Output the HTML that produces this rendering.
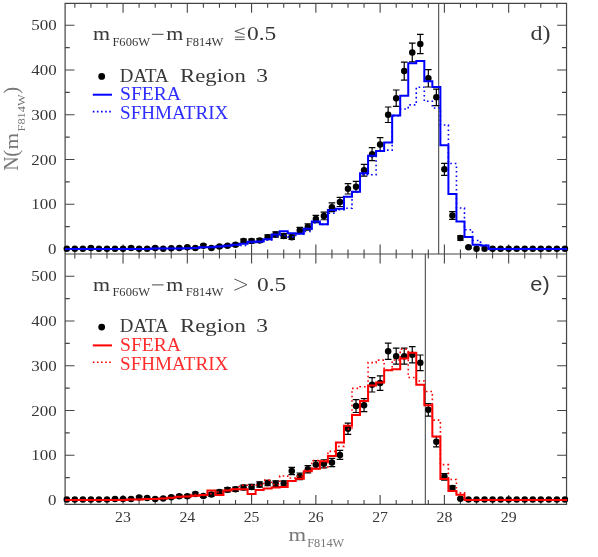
<!DOCTYPE html>
<html><head><meta charset="utf-8"><title>N(mF814W) histograms</title>
<style>html,body{margin:0;padding:0;background:#fff}svg{display:block;will-change:transform}</style>
</head><body>
<svg width="598" height="557" viewBox="0 0 598 557">
<rect width="598" height="557" fill="#fff"/>
<path d="M74.84 3.45v4.4M74.84 254v-4.4M90.91 3.45v4.4M90.91 254v-4.4M106.98 3.45v4.4M106.98 254v-4.4M123.04 3.45v9.4M123.04 254v-9.4M139.11 3.45v4.4M139.11 254v-4.4M155.18 3.45v4.4M155.18 254v-4.4M171.25 3.45v4.4M171.25 254v-4.4M187.31 3.45v9.4M187.31 254v-9.4M203.38 3.45v4.4M203.38 254v-4.4M219.45 3.45v4.4M219.45 254v-4.4M235.52 3.45v4.4M235.52 254v-4.4M251.58 3.45v9.4M251.58 254v-9.4M267.65 3.45v4.4M267.65 254v-4.4M283.72 3.45v4.4M283.72 254v-4.4M299.79 3.45v4.4M299.79 254v-4.4M315.85 3.45v9.4M315.85 254v-9.4M331.92 3.45v4.4M331.92 254v-4.4M347.99 3.45v4.4M347.99 254v-4.4M364.06 3.45v4.4M364.06 254v-4.4M380.12 3.45v9.4M380.12 254v-9.4M396.19 3.45v4.4M396.19 254v-4.4M412.26 3.45v4.4M412.26 254v-4.4M428.33 3.45v4.4M428.33 254v-4.4M444.39 3.45v9.4M444.39 254v-9.4M460.46 3.45v4.4M460.46 254v-4.4M476.53 3.45v4.4M476.53 254v-4.4M492.6 3.45v4.4M492.6 254v-4.4M508.66 3.45v9.4M508.66 254v-9.4M524.73 3.45v4.4M524.73 254v-4.4M540.8 3.45v4.4M540.8 254v-4.4M556.87 3.45v4.4M556.87 254v-4.4M65.1 249h9.4M566.55 249h-9.4M65.1 226.62h4.6M566.55 226.62h-4.6M65.1 204.25h9.4M566.55 204.25h-9.4M65.1 181.88h4.6M566.55 181.88h-4.6M65.1 159.5h9.4M566.55 159.5h-9.4M65.1 137.12h4.6M566.55 137.12h-4.6M65.1 114.75h9.4M566.55 114.75h-9.4M65.1 92.38h4.6M566.55 92.38h-4.6M65.1 70h9.4M566.55 70h-9.4M65.1 47.62h4.6M566.55 47.62h-4.6M65.1 25.25h9.4M566.55 25.25h-9.4" stroke="#444" stroke-width="1.1" fill="none"/>
<path d="M74.84 254v4.4M74.84 504.45v-4.4M90.91 254v4.4M90.91 504.45v-4.4M106.98 254v4.4M106.98 504.45v-4.4M123.04 254v9.4M123.04 504.45v-9.4M139.11 254v4.4M139.11 504.45v-4.4M155.18 254v4.4M155.18 504.45v-4.4M171.25 254v4.4M171.25 504.45v-4.4M187.31 254v9.4M187.31 504.45v-9.4M203.38 254v4.4M203.38 504.45v-4.4M219.45 254v4.4M219.45 504.45v-4.4M235.52 254v4.4M235.52 504.45v-4.4M251.58 254v9.4M251.58 504.45v-9.4M267.65 254v4.4M267.65 504.45v-4.4M283.72 254v4.4M283.72 504.45v-4.4M299.79 254v4.4M299.79 504.45v-4.4M315.85 254v9.4M315.85 504.45v-9.4M331.92 254v4.4M331.92 504.45v-4.4M347.99 254v4.4M347.99 504.45v-4.4M364.06 254v4.4M364.06 504.45v-4.4M380.12 254v9.4M380.12 504.45v-9.4M396.19 254v4.4M396.19 504.45v-4.4M412.26 254v4.4M412.26 504.45v-4.4M428.33 254v4.4M428.33 504.45v-4.4M444.39 254v9.4M444.39 504.45v-9.4M460.46 254v4.4M460.46 504.45v-4.4M476.53 254v4.4M476.53 504.45v-4.4M492.6 254v4.4M492.6 504.45v-4.4M508.66 254v9.4M508.66 504.45v-9.4M524.73 254v4.4M524.73 504.45v-4.4M540.8 254v4.4M540.8 504.45v-4.4M556.87 254v4.4M556.87 504.45v-4.4M65.1 500h9.4M566.55 500h-9.4M65.1 477.62h4.6M566.55 477.62h-4.6M65.1 455.25h9.4M566.55 455.25h-9.4M65.1 432.88h4.6M566.55 432.88h-4.6M65.1 410.5h9.4M566.55 410.5h-9.4M65.1 388.12h4.6M566.55 388.12h-4.6M65.1 365.75h9.4M566.55 365.75h-9.4M65.1 343.38h4.6M566.55 343.38h-4.6M65.1 321h9.4M566.55 321h-9.4M65.1 298.62h4.6M566.55 298.62h-4.6M65.1 276.25h9.4M566.55 276.25h-9.4" stroke="#444" stroke-width="1.1" fill="none"/>
<path d="M65.1 3.45H566.55V504.45H65.1ZM65.1 254H566.55" stroke="#444" stroke-width="1.2" fill="none"/>
<line x1="438.7" y1="3.45" x2="438.7" y2="254" stroke="#3a3a3a" stroke-width="1"/>
<path d="M90.91 247.17V248.59M87.61 247.17H94.21M87.61 248.59H94.21M131.08 247.17V248.59M127.78 247.17H134.38M127.78 248.59H134.38M155.18 247.17V248.59M151.88 247.17H158.48M151.88 248.59H158.48M179.28 247.47V248.74M175.98 247.47H182.58M175.98 248.74H182.58M187.31 246.31V248.11M184.01 246.31H190.61M184.01 248.11H190.61M195.35 247.47V248.74M192.05 247.47H198.65M192.05 248.74H198.65M203.38 244.42V246.87M200.08 244.42H206.68M200.08 246.87H206.68M211.41 247.47V248.74M208.11 247.47H214.71M208.11 248.74H214.71M219.45 245.49V247.59M216.15 245.49H222.75M216.15 247.59H222.75M227.48 244.58V246.98M224.18 244.58H230.78M224.18 246.98H230.78M235.52 243.27V246.05M232.22 243.27H238.82M232.22 246.05H238.82M243.55 239.05V242.84M240.25 239.05H246.85M240.25 242.84H246.85M251.58 239.05V242.84M248.28 239.05H254.88M248.28 242.84H254.88M259.62 238.55V242.45M256.32 238.55H262.92M256.32 242.45H262.92M267.65 234.89V239.49M264.35 234.89H270.95M264.35 239.49H270.95M275.68 231.95V237.05M272.38 231.95H278.98M272.38 237.05H278.98M283.72 233.61V238.43M280.42 233.61H287.02M280.42 238.43H287.02M291.75 234.89V239.49M288.45 234.89H295.05M288.45 239.49H295.05M299.79 227.4V233.19M296.49 227.4H303.09M296.49 233.19H303.09M307.82 223.94V230.2M304.52 223.94H311.12M304.52 230.2H311.12M315.85 215.35V222.68M312.55 215.35H319.15M312.55 222.68H319.15M323.89 212.04V219.73M320.59 212.04H327.19M320.59 219.73H327.19M331.92 202.93V211.57M328.62 202.93H335.22M328.62 211.57H335.22M339.95 197.33V206.51M336.65 197.33H343.25M336.65 206.51H343.25M347.99 183.62V194M344.69 183.62H351.29M344.69 194H351.29M356.02 181.43V191.99M352.72 181.43H359.32M352.72 191.99H359.32M364.06 164.3V176.18M360.76 164.3H367.36M360.76 176.18H367.36M372.09 147.61V160.65M368.79 147.61H375.39M368.79 160.65H375.39M380.12 137.67V151.35M376.82 137.67H383.42M376.82 151.35H383.42M388.16 107V122.5M384.86 107H391.46M384.86 122.5H391.46M396.19 89.98V106.41M392.89 89.98H399.49M392.89 106.41H399.49M404.22 62.2V80.04M400.92 62.2H407.52M400.92 80.04H407.52M412.26 43.17V61.92M408.96 43.17H415.56M408.96 61.92H415.56M420.29 34.47V53.62M416.99 34.47H423.59M416.99 53.62H423.59M428.33 69.54V87.02M425.03 69.54H431.63M425.03 87.02H431.63M436.36 89.06V105.54M433.06 89.06H439.66M433.06 105.54H439.66M444.39 163.37V175.32M441.09 163.37H447.69M441.09 175.32H447.69M452.43 211.56V219.31M449.13 211.56H455.73M449.13 219.31H455.73M460.46 235.82V240.25M457.16 235.82H463.76M457.16 240.25H463.76M468.49 246.31V248.11M465.19 246.31H471.79M465.19 248.11H471.79" stroke="#000" stroke-width="1.2" fill="none"/>
<circle cx="66.81" cy="248.78" r="3.25" fill="#000"/>
<circle cx="74.84" cy="248.78" r="3.25" fill="#000"/>
<circle cx="82.87" cy="248.78" r="3.25" fill="#000"/>
<circle cx="90.91" cy="247.88" r="3.25" fill="#000"/>
<circle cx="98.94" cy="248.78" r="3.25" fill="#000"/>
<circle cx="106.98" cy="248.78" r="3.25" fill="#000"/>
<circle cx="115.01" cy="248.78" r="3.25" fill="#000"/>
<circle cx="123.04" cy="248.78" r="3.25" fill="#000"/>
<circle cx="131.08" cy="247.88" r="3.25" fill="#000"/>
<circle cx="139.11" cy="248.78" r="3.25" fill="#000"/>
<circle cx="147.14" cy="248.78" r="3.25" fill="#000"/>
<circle cx="155.18" cy="247.88" r="3.25" fill="#000"/>
<circle cx="163.21" cy="248.78" r="3.25" fill="#000"/>
<circle cx="171.25" cy="248.33" r="3.25" fill="#000"/>
<circle cx="179.28" cy="248.1" r="3.25" fill="#000"/>
<circle cx="187.31" cy="247.21" r="3.25" fill="#000"/>
<circle cx="195.35" cy="248.1" r="3.25" fill="#000"/>
<circle cx="203.38" cy="245.64" r="3.25" fill="#000"/>
<circle cx="211.41" cy="248.1" r="3.25" fill="#000"/>
<circle cx="219.45" cy="246.54" r="3.25" fill="#000"/>
<circle cx="227.48" cy="245.78" r="3.25" fill="#000"/>
<circle cx="235.52" cy="244.66" r="3.25" fill="#000"/>
<circle cx="243.55" cy="240.94" r="3.25" fill="#000"/>
<circle cx="251.58" cy="240.94" r="3.25" fill="#000"/>
<circle cx="259.62" cy="240.5" r="3.25" fill="#000"/>
<circle cx="267.65" cy="237.19" r="3.25" fill="#000"/>
<circle cx="275.68" cy="234.5" r="3.25" fill="#000"/>
<circle cx="283.72" cy="236.02" r="3.25" fill="#000"/>
<circle cx="291.75" cy="237.19" r="3.25" fill="#000"/>
<circle cx="299.79" cy="230.29" r="3.25" fill="#000"/>
<circle cx="307.82" cy="227.07" r="3.25" fill="#000"/>
<circle cx="315.85" cy="219.02" r="3.25" fill="#000"/>
<circle cx="323.89" cy="215.88" r="3.25" fill="#000"/>
<circle cx="331.92" cy="207.25" r="3.25" fill="#000"/>
<circle cx="339.95" cy="201.92" r="3.25" fill="#000"/>
<circle cx="347.99" cy="188.81" r="3.25" fill="#000"/>
<circle cx="356.02" cy="186.71" r="3.25" fill="#000"/>
<circle cx="364.06" cy="170.24" r="3.25" fill="#000"/>
<circle cx="372.09" cy="154.13" r="3.25" fill="#000"/>
<circle cx="380.12" cy="144.51" r="3.25" fill="#000"/>
<circle cx="388.16" cy="114.75" r="3.25" fill="#000"/>
<circle cx="396.19" cy="98.19" r="3.25" fill="#000"/>
<circle cx="404.22" cy="71.12" r="3.25" fill="#000"/>
<circle cx="412.26" cy="52.55" r="3.25" fill="#000"/>
<circle cx="420.29" cy="44.04" r="3.25" fill="#000"/>
<circle cx="428.33" cy="78.28" r="3.25" fill="#000"/>
<circle cx="436.36" cy="97.3" r="3.25" fill="#000"/>
<circle cx="444.39" cy="169.34" r="3.25" fill="#000"/>
<circle cx="452.43" cy="215.44" r="3.25" fill="#000"/>
<circle cx="460.46" cy="238.04" r="3.25" fill="#000"/>
<circle cx="468.49" cy="247.21" r="3.25" fill="#000"/>
<circle cx="476.53" cy="248.78" r="3.25" fill="#000"/>
<circle cx="484.56" cy="248.78" r="3.25" fill="#000"/>
<circle cx="492.6" cy="248.78" r="3.25" fill="#000"/>
<circle cx="500.63" cy="248.78" r="3.25" fill="#000"/>
<circle cx="508.66" cy="248.78" r="3.25" fill="#000"/>
<circle cx="516.7" cy="248.78" r="3.25" fill="#000"/>
<circle cx="524.73" cy="248.78" r="3.25" fill="#000"/>
<circle cx="532.76" cy="248.78" r="3.25" fill="#000"/>
<circle cx="540.8" cy="248.78" r="3.25" fill="#000"/>
<circle cx="548.83" cy="248.78" r="3.25" fill="#000"/>
<circle cx="556.87" cy="248.78" r="3.25" fill="#000"/>
<circle cx="564.9" cy="248.78" r="3.25" fill="#000"/>
<path d="M65.1 249H70.82V249H78.86V249H86.89V249H94.92V249H102.96V249H110.99V249H119.03V249H127.06V249H135.09V249H143.13V249H151.16V248.55H159.19V248.55H167.23V248.55H175.26V248.46H183.3V248.33H191.33V248.1H199.36V247.21H207.4V247.21H215.43V246.49H223.46V245.64H231.5V244.75H239.53V243.63H247.57V241.84H255.6V241.62H263.63V239.16H271.67V234.5H279.7V231.23H287.73V233.34H295.77V233.65H303.8V228.64H311.84V221.39H319.87V224.21H327.9V210.07H335.94V208.72H343.97V196.87H352V191.85H360.04V173.37H368.07V155.7H376.11V151H384.14V142.5H392.17V115.42H400.21V95.82H408.24V63.29H416.27V61.05H424.31V81.37H432.34V87H440.38V145.27H448.41V193.96H456.44V221.48H464.48V236.92H472.51V244.84H480.54V245.42H488.58V249H496.61V249H504.65V249H512.68V249H520.71V249H528.75V249H536.78V249H544.81V249H552.85V249H560.88V249H567.15" stroke="#0000ff" stroke-width="2" fill="none" stroke-linejoin="miter"/>
<path d="M65.1 249H70.82V249H78.86V249H86.89V249H94.92V249H102.96V249H110.99V249H119.03V249H127.06V249H135.09V249H143.13V249H151.16V248.55H159.19V248.55H167.23V248.55H175.26V248.46H183.3V248.33H191.33V248.1H199.36V247.21H207.4V247.21H215.43V246.49H223.46V245.64H231.5V244.75H239.53V245.42H247.57V242.74H255.6V242.29H263.63V240.05H271.67V236.47H279.7V235.57H287.73V236.92H295.77V233.78H303.8V231.55H311.84V223.04H319.87V224.39H327.9V213.2H335.94V209.62H343.97V208.32H352V191.85H360.04V174.72H368.07V174.72H376.11V151H384.14V150.1H392.17V115.65H400.21V108.93H408.24V104.91H416.27V87.23H424.31V101.32H432.34V108.04H440.38V125.04H448.41V163.53H456.44V208.05H464.48V229.76H472.51V240.5H480.54V245.42H488.58V249H496.61V249H504.65V249H512.68V249H520.71V249H528.75V249H536.78V249H544.81V249H552.85V249H560.88V249H567.15" stroke="#0000ff" stroke-width="1.6" fill="none" stroke-dasharray="1.6 2.9"/>
<line x1="425.3" y1="254" x2="425.3" y2="504.45" stroke="#3a3a3a" stroke-width="1"/>
<path d="M115.01 498.47V499.74M111.71 498.47H118.31M111.71 499.74H118.31M123.04 498.47V499.74M119.74 498.47H126.34M119.74 499.74H126.34M131.08 498.47V499.74M127.78 498.47H134.38M127.78 499.74H134.38M139.11 496.33V498.48M135.81 496.33H142.41M135.81 498.48H142.41M147.14 497.04V498.94M143.84 497.04H150.44M143.84 498.94H150.44M155.18 498.23V499.62M151.88 498.23H158.48M151.88 499.62H158.48M163.21 497.77V499.37M159.91 497.77H166.51M159.91 499.37H166.51M171.25 496.06V498.3M167.95 496.06H174.55M167.95 498.3H174.55M179.28 494.94V497.54M175.98 494.94H182.58M175.98 497.54H182.58M187.31 494.94V497.54M184.01 494.94H190.61M184.01 497.54H190.61M195.35 492.26V495.56M192.05 492.26H198.65M192.05 495.56H198.65M203.38 494.63V497.31M200.08 494.63H206.68M200.08 497.31H206.68M211.41 492.93V496.07M208.11 492.93H214.71M208.11 496.07H214.71M219.45 490.05V493.84M216.15 490.05H222.75M216.15 493.84H222.75M227.48 487.66V491.93M224.18 487.66H230.78M224.18 491.93H230.78M235.52 487.07V491.45M232.22 487.07H238.82M232.22 491.45H238.82M243.55 485.1V489.84M240.25 485.1H246.85M240.25 489.84H246.85M251.58 484.47V489.31M248.28 484.47H254.88M248.28 489.31H254.88M259.62 481.88V487.15M256.32 481.88H262.92M256.32 487.15H262.92M267.65 480.24V485.75M264.35 480.24H270.95M264.35 485.75H270.95M275.68 480.91V486.33M272.38 480.91H278.98M272.38 486.33H278.98M283.72 480.91V486.33M280.42 480.91H287.02M280.42 486.33H287.02M291.75 467.4V474.6M288.45 467.4H295.05M288.45 474.6H295.05M299.79 473.02V479.54M296.49 473.02H303.09M296.49 479.54H303.09M307.82 465.55V472.97M304.52 465.55H311.12M304.52 472.97H311.12M315.85 460.67V468.62M312.55 460.67H319.15M312.55 468.62H319.15M323.89 459.73V467.78M320.59 459.73H327.19M320.59 467.78H327.19M331.92 458.4V466.6M328.62 458.4H335.22M328.62 466.6H335.22M339.95 450.4V459.38M336.65 450.4H343.25M336.65 459.38H343.25M347.99 423.07V434.36M344.69 423.07H351.29M344.69 434.36H351.29M356.02 399.54V412.51M352.72 399.54H359.32M352.72 412.51H359.32M364.06 398.61V411.65M360.76 398.61H367.36M360.76 411.65H367.36M372.09 377.63V391.99M368.79 377.63H375.39M368.79 391.99H375.39M380.12 375.83V390.3M376.82 375.83H383.42M376.82 390.3H383.42M388.16 343.09V359.41M384.86 343.09H391.46M384.86 359.41H391.46M396.19 348.15V364.2M392.89 348.15H399.49M392.89 364.2H399.49M404.22 348.15V364.2M400.92 348.15H407.52M400.92 364.2H407.52M412.26 346.68V362.8M408.96 346.68H415.56M408.96 362.8H415.56M420.29 355.01V370.68M416.99 355.01H423.59M416.99 370.68H423.59M428.33 403.52V416.22M425.03 403.52H431.63M425.03 416.22H431.63M436.36 436.72V446.93M433.06 436.72H439.66M433.06 446.93H439.66M444.39 473.65V480.08M441.09 473.65H447.69M441.09 480.08H447.69M452.43 485.79V490.4M449.13 485.79H455.73M449.13 490.4H455.73M460.46 497.88V499.43M457.16 497.88H463.76M457.16 499.43H463.76" stroke="#000" stroke-width="1.2" fill="none"/>
<circle cx="66.81" cy="499.42" r="3.25" fill="#000"/>
<circle cx="74.84" cy="499.42" r="3.25" fill="#000"/>
<circle cx="82.87" cy="499.42" r="3.25" fill="#000"/>
<circle cx="90.91" cy="499.42" r="3.25" fill="#000"/>
<circle cx="98.94" cy="499.42" r="3.25" fill="#000"/>
<circle cx="106.98" cy="499.42" r="3.25" fill="#000"/>
<circle cx="115.01" cy="499.11" r="3.25" fill="#000"/>
<circle cx="123.04" cy="499.11" r="3.25" fill="#000"/>
<circle cx="131.08" cy="499.11" r="3.25" fill="#000"/>
<circle cx="139.11" cy="497.4" r="3.25" fill="#000"/>
<circle cx="147.14" cy="497.99" r="3.25" fill="#000"/>
<circle cx="155.18" cy="498.93" r="3.25" fill="#000"/>
<circle cx="163.21" cy="498.57" r="3.25" fill="#000"/>
<circle cx="171.25" cy="497.18" r="3.25" fill="#000"/>
<circle cx="179.28" cy="496.24" r="3.25" fill="#000"/>
<circle cx="187.31" cy="496.24" r="3.25" fill="#000"/>
<circle cx="195.35" cy="493.91" r="3.25" fill="#000"/>
<circle cx="203.38" cy="495.97" r="3.25" fill="#000"/>
<circle cx="211.41" cy="494.5" r="3.25" fill="#000"/>
<circle cx="219.45" cy="491.94" r="3.25" fill="#000"/>
<circle cx="227.48" cy="489.8" r="3.25" fill="#000"/>
<circle cx="235.52" cy="489.26" r="3.25" fill="#000"/>
<circle cx="243.55" cy="487.47" r="3.25" fill="#000"/>
<circle cx="251.58" cy="486.89" r="3.25" fill="#000"/>
<circle cx="259.62" cy="484.52" r="3.25" fill="#000"/>
<circle cx="267.65" cy="483" r="3.25" fill="#000"/>
<circle cx="275.68" cy="483.62" r="3.25" fill="#000"/>
<circle cx="283.72" cy="483.62" r="3.25" fill="#000"/>
<circle cx="291.75" cy="471" r="3.25" fill="#000"/>
<circle cx="299.79" cy="476.28" r="3.25" fill="#000"/>
<circle cx="307.82" cy="469.26" r="3.25" fill="#000"/>
<circle cx="315.85" cy="464.65" r="3.25" fill="#000"/>
<circle cx="323.89" cy="463.75" r="3.25" fill="#000"/>
<circle cx="331.92" cy="462.5" r="3.25" fill="#000"/>
<circle cx="339.95" cy="454.89" r="3.25" fill="#000"/>
<circle cx="347.99" cy="428.71" r="3.25" fill="#000"/>
<circle cx="356.02" cy="406.02" r="3.25" fill="#000"/>
<circle cx="364.06" cy="405.13" r="3.25" fill="#000"/>
<circle cx="372.09" cy="384.81" r="3.25" fill="#000"/>
<circle cx="380.12" cy="383.07" r="3.25" fill="#000"/>
<circle cx="388.16" cy="351.25" r="3.25" fill="#000"/>
<circle cx="396.19" cy="356.17" r="3.25" fill="#000"/>
<circle cx="404.22" cy="356.17" r="3.25" fill="#000"/>
<circle cx="412.26" cy="354.74" r="3.25" fill="#000"/>
<circle cx="420.29" cy="362.84" r="3.25" fill="#000"/>
<circle cx="428.33" cy="409.87" r="3.25" fill="#000"/>
<circle cx="436.36" cy="441.82" r="3.25" fill="#000"/>
<circle cx="444.39" cy="476.86" r="3.25" fill="#000"/>
<circle cx="452.43" cy="488.1" r="3.25" fill="#000"/>
<circle cx="460.46" cy="498.66" r="3.25" fill="#000"/>
<circle cx="468.49" cy="499.46" r="3.25" fill="#000"/>
<circle cx="476.53" cy="499.42" r="3.25" fill="#000"/>
<circle cx="484.56" cy="499.42" r="3.25" fill="#000"/>
<circle cx="492.6" cy="499.42" r="3.25" fill="#000"/>
<circle cx="500.63" cy="499.42" r="3.25" fill="#000"/>
<circle cx="508.66" cy="499.42" r="3.25" fill="#000"/>
<circle cx="516.7" cy="499.42" r="3.25" fill="#000"/>
<circle cx="524.73" cy="499.42" r="3.25" fill="#000"/>
<circle cx="532.76" cy="499.42" r="3.25" fill="#000"/>
<circle cx="540.8" cy="499.42" r="3.25" fill="#000"/>
<circle cx="548.83" cy="499.42" r="3.25" fill="#000"/>
<circle cx="556.87" cy="499.42" r="3.25" fill="#000"/>
<circle cx="564.9" cy="499.42" r="3.25" fill="#000"/>
<path d="M65.1 500H70.82V500H78.86V500H86.89V500H94.92V500H102.96V500H110.99V500H119.03V500H127.06V499.55H135.09V499.55H143.13V499.11H151.16V498.88H159.19V498.43H167.23V497.76H175.26V496.87H183.3V496.42H191.33V495.66H199.36V495.08H207.4V490.38H215.43V495.08H223.46V490.38H231.5V489.26H239.53V489.26H247.57V493.91H255.6V489.93H263.63V488.54H271.67V487.47H279.7V487.02H287.73V480.94H295.77V478.74H303.8V471.27H311.84V468.68H319.87V461.25H327.9V456.01H335.94V442.54H343.97V425.72H352V414.98H360.04V400.92H368.07V385.44H376.11V382.49H384.14V370.23H392.17V369.33H400.21V358.59H408.24V352.77H416.27V384.81H424.31V405.13H432.34V436.54H440.38V478.97H448.41V491.05H456.44V494.76H464.48V500H472.51V500H480.54V500H488.58V500H496.61V500H504.65V500H512.68V500H520.71V500H528.75V500H536.78V500H544.81V500H552.85V500H560.88V500H567.15" stroke="#ff0000" stroke-width="2" fill="none" stroke-linejoin="miter"/>
<path d="M65.1 500H70.82V500H78.86V500H86.89V500H94.92V500H102.96V500H110.99V500H119.03V500H127.06V499.55H135.09V499.55H143.13V499.11H151.16V498.88H159.19V498.43H167.23V497.76H175.26V496.87H183.3V496.42H191.33V494.63H199.36V495.52H207.4V493.74H215.43V491.94H223.46V490.15H231.5V488.81H239.53V485.23H247.57V485.23H255.6V485.23H263.63V480.13H271.67V484.47H279.7V476.01H287.73V478.07H295.77V476.28H303.8V470.46H311.84V460.62H319.87V467.78H327.9V451.36H335.94V446.39H343.97V428.98H352V388.35H360.04V386.78H368.07V362.62H376.11V360.16H384.14V370.23H392.17V360.07H400.21V349.19H408.24V377.47H416.27V380.97H424.31V391.57H432.34V420.17H440.38V464.65H448.41V479.55H456.44V492.84H464.48V500H472.51V500H480.54V500H488.58V500H496.61V500H504.65V500H512.68V500H520.71V500H528.75V500H536.78V500H544.81V500H552.85V500H560.88V500H567.15" stroke="#ff0000" stroke-width="1.6" fill="none" stroke-dasharray="1.6 2.9"/>
<text x="48.13" y="254.2" font-family="'Liberation Serif', sans-serif" font-size="14.5" fill="#383838" text-anchor="start" textLength="8.47" lengthAdjust="spacingAndGlyphs">0</text>
<text x="31.19" y="209.45" font-family="'Liberation Serif', sans-serif" font-size="14.5" fill="#383838" text-anchor="start" textLength="25.41" lengthAdjust="spacingAndGlyphs">100</text>
<text x="31.19" y="164.7" font-family="'Liberation Serif', sans-serif" font-size="14.5" fill="#383838" text-anchor="start" textLength="25.41" lengthAdjust="spacingAndGlyphs">200</text>
<text x="31.19" y="119.95" font-family="'Liberation Serif', sans-serif" font-size="14.5" fill="#383838" text-anchor="start" textLength="25.41" lengthAdjust="spacingAndGlyphs">300</text>
<text x="31.19" y="75.2" font-family="'Liberation Serif', sans-serif" font-size="14.5" fill="#383838" text-anchor="start" textLength="25.41" lengthAdjust="spacingAndGlyphs">400</text>
<text x="31.19" y="30.45" font-family="'Liberation Serif', sans-serif" font-size="14.5" fill="#383838" text-anchor="start" textLength="25.41" lengthAdjust="spacingAndGlyphs">500</text>
<text x="48.13" y="505.2" font-family="'Liberation Serif', sans-serif" font-size="14.5" fill="#383838" text-anchor="start" textLength="8.47" lengthAdjust="spacingAndGlyphs">0</text>
<text x="31.19" y="460.45" font-family="'Liberation Serif', sans-serif" font-size="14.5" fill="#383838" text-anchor="start" textLength="25.41" lengthAdjust="spacingAndGlyphs">100</text>
<text x="31.19" y="415.7" font-family="'Liberation Serif', sans-serif" font-size="14.5" fill="#383838" text-anchor="start" textLength="25.41" lengthAdjust="spacingAndGlyphs">200</text>
<text x="31.19" y="370.95" font-family="'Liberation Serif', sans-serif" font-size="14.5" fill="#383838" text-anchor="start" textLength="25.41" lengthAdjust="spacingAndGlyphs">300</text>
<text x="31.19" y="326.2" font-family="'Liberation Serif', sans-serif" font-size="14.5" fill="#383838" text-anchor="start" textLength="25.41" lengthAdjust="spacingAndGlyphs">400</text>
<text x="31.19" y="281.45" font-family="'Liberation Serif', sans-serif" font-size="14.5" fill="#383838" text-anchor="start" textLength="25.41" lengthAdjust="spacingAndGlyphs">500</text>
<text x="115.14" y="522.4" font-family="'Liberation Serif', sans-serif" font-size="14.5" fill="#383838" text-anchor="start" textLength="15.8" lengthAdjust="spacingAndGlyphs">23</text>
<text x="179.41" y="522.4" font-family="'Liberation Serif', sans-serif" font-size="14.5" fill="#383838" text-anchor="start" textLength="15.8" lengthAdjust="spacingAndGlyphs">24</text>
<text x="243.68" y="522.4" font-family="'Liberation Serif', sans-serif" font-size="14.5" fill="#383838" text-anchor="start" textLength="15.8" lengthAdjust="spacingAndGlyphs">25</text>
<text x="307.95" y="522.4" font-family="'Liberation Serif', sans-serif" font-size="14.5" fill="#383838" text-anchor="start" textLength="15.8" lengthAdjust="spacingAndGlyphs">26</text>
<text x="372.22" y="522.4" font-family="'Liberation Serif', sans-serif" font-size="14.5" fill="#383838" text-anchor="start" textLength="15.8" lengthAdjust="spacingAndGlyphs">27</text>
<text x="436.49" y="522.4" font-family="'Liberation Serif', sans-serif" font-size="14.5" fill="#383838" text-anchor="start" textLength="15.8" lengthAdjust="spacingAndGlyphs">28</text>
<text x="500.76" y="522.4" font-family="'Liberation Serif', sans-serif" font-size="14.5" fill="#383838" text-anchor="start" textLength="15.8" lengthAdjust="spacingAndGlyphs">29</text>
<text x="93" y="39.9" font-family="'Liberation Serif', sans-serif" font-size="18.5" fill="#383838" text-anchor="start" textLength="17" lengthAdjust="spacingAndGlyphs">m</text>
<text x="112.4" y="45.6" font-family="'Liberation Serif', sans-serif" font-size="11.5" fill="#383838" text-anchor="start" textLength="37.6" lengthAdjust="spacingAndGlyphs">F606W</text>
<line x1="151.9" y1="34.3" x2="163.6" y2="34.3" stroke="#333" stroke-width="0.9"/>
<text x="166.3" y="39.9" font-family="'Liberation Serif', sans-serif" font-size="18.5" fill="#383838" text-anchor="start" textLength="17" lengthAdjust="spacingAndGlyphs">m</text>
<text x="185.8" y="45.6" font-family="'Liberation Serif', sans-serif" font-size="11.5" fill="#383838" text-anchor="start" textLength="37.6" lengthAdjust="spacingAndGlyphs">F814W</text>
<path d="M244.7 27.9L234.9 31.3L244.7 34.6M234.9 37.1H244.7M234.9 39.6H244.7" stroke="#555" stroke-width="1" fill="none"/>
<text x="247" y="39.9" font-family="'Liberation Serif', sans-serif" font-size="19" fill="#383838" text-anchor="start" textLength="29.3" lengthAdjust="spacingAndGlyphs">0.5</text>
<circle cx="101.7" cy="76.4" r="3.4" fill="#000"/>
<text x="119.8" y="81.7" font-family="'Liberation Serif', sans-serif" font-size="18.5" fill="#383838" text-anchor="start" textLength="48.8" lengthAdjust="spacingAndGlyphs">DATA</text>
<text x="180" y="81.7" font-family="'Liberation Serif', sans-serif" font-size="18.5" fill="#383838" text-anchor="start" textLength="65.8" lengthAdjust="spacingAndGlyphs">Region</text>
<text x="256.2" y="81.7" font-family="'Liberation Serif', sans-serif" font-size="18.5" fill="#383838" text-anchor="start" textLength="11.8" lengthAdjust="spacingAndGlyphs">3</text>
<line x1="92.8" y1="94.7" x2="112" y2="94.7" stroke="#0000ff" stroke-width="2"/>
<text x="120" y="100.3" font-family="'Liberation Serif', sans-serif" font-size="18.5" fill="#2d2dff" text-anchor="start" textLength="61" lengthAdjust="spacingAndGlyphs">SFERA</text>
<line x1="92.8" y1="111.6" x2="112" y2="111.6" stroke="#0000ff" stroke-width="1.6" stroke-dasharray="1.6 2.5"/>
<text x="120" y="119.3" font-family="'Liberation Serif', sans-serif" font-size="18.5" fill="#2d2dff" text-anchor="start" textLength="108.3" lengthAdjust="spacingAndGlyphs">SFHMATRIX</text>
<text x="93" y="290.5" font-family="'Liberation Serif', sans-serif" font-size="18.5" fill="#383838" text-anchor="start" textLength="17" lengthAdjust="spacingAndGlyphs">m</text>
<text x="112.4" y="296.2" font-family="'Liberation Serif', sans-serif" font-size="11.5" fill="#383838" text-anchor="start" textLength="37.6" lengthAdjust="spacingAndGlyphs">F606W</text>
<line x1="151.9" y1="284.9" x2="163.6" y2="284.9" stroke="#333" stroke-width="0.9"/>
<text x="166.3" y="290.5" font-family="'Liberation Serif', sans-serif" font-size="18.5" fill="#383838" text-anchor="start" textLength="17" lengthAdjust="spacingAndGlyphs">m</text>
<text x="185.8" y="296.2" font-family="'Liberation Serif', sans-serif" font-size="11.5" fill="#383838" text-anchor="start" textLength="37.6" lengthAdjust="spacingAndGlyphs">F814W</text>
<path d="M234.4 279L247 284.7L234.4 290.3" stroke="#555" stroke-width="1" fill="none"/>
<text x="257" y="290.5" font-family="'Liberation Serif', sans-serif" font-size="19" fill="#383838" text-anchor="start" textLength="29.3" lengthAdjust="spacingAndGlyphs">0.5</text>
<circle cx="101.7" cy="327.1" r="3.4" fill="#000"/>
<text x="119.8" y="332.4" font-family="'Liberation Serif', sans-serif" font-size="18.5" fill="#383838" text-anchor="start" textLength="48.8" lengthAdjust="spacingAndGlyphs">DATA</text>
<text x="180" y="332.4" font-family="'Liberation Serif', sans-serif" font-size="18.5" fill="#383838" text-anchor="start" textLength="65.8" lengthAdjust="spacingAndGlyphs">Region</text>
<text x="256.2" y="332.4" font-family="'Liberation Serif', sans-serif" font-size="18.5" fill="#383838" text-anchor="start" textLength="11.8" lengthAdjust="spacingAndGlyphs">3</text>
<line x1="92.8" y1="345.4" x2="112" y2="345.4" stroke="#ff0000" stroke-width="2"/>
<text x="120" y="351" font-family="'Liberation Serif', sans-serif" font-size="18.5" fill="#ff2d2d" text-anchor="start" textLength="61" lengthAdjust="spacingAndGlyphs">SFERA</text>
<line x1="92.8" y1="362.3" x2="112" y2="362.3" stroke="#ff0000" stroke-width="1.6" stroke-dasharray="1.6 2.5"/>
<text x="120" y="370" font-family="'Liberation Serif', sans-serif" font-size="18.5" fill="#ff2d2d" text-anchor="start" textLength="108.3" lengthAdjust="spacingAndGlyphs">SFHMATRIX</text>
<text x="530.5" y="39.8" font-family="'Liberation Serif', sans-serif" font-size="21" fill="#383838" text-anchor="start" textLength="20" lengthAdjust="spacingAndGlyphs">d)</text>
<text x="530.3" y="290.5" font-family="'Liberation Sans', sans-serif" font-size="19.3" fill="#383838" text-anchor="start" textLength="19.4" lengthAdjust="spacingAndGlyphs">e)</text>
<text x="288.4" y="541.4" font-family="'Liberation Serif', sans-serif" font-size="18.5" fill="#777" text-anchor="start" textLength="17.6" lengthAdjust="spacingAndGlyphs">m</text>
<text x="307.2" y="547.1" font-family="'Liberation Serif', sans-serif" font-size="11.5" fill="#777" text-anchor="start" textLength="37" lengthAdjust="spacingAndGlyphs">F814W</text>
<g transform="translate(17.9 170.4) rotate(-90)">
<text x="-0.3" y="0" font-family="'Liberation Serif', sans-serif" font-size="20.5" fill="#777" text-anchor="start" textLength="14.3" lengthAdjust="spacingAndGlyphs">N</text>
<text x="13.6" y="0" font-family="'Liberation Serif', sans-serif" font-size="20.5" fill="#777" text-anchor="start">(</text>
<text x="20.9" y="0" font-family="'Liberation Serif', sans-serif" font-size="18.5" fill="#777" text-anchor="start" textLength="16.6" lengthAdjust="spacingAndGlyphs">m</text>
<text x="38.9" y="6.6" font-family="'Liberation Serif', sans-serif" font-size="10.5" fill="#777" text-anchor="start" textLength="37.2" lengthAdjust="spacingAndGlyphs">F814W</text>
<text x="76.6" y="0" font-family="'Liberation Serif', sans-serif" font-size="20.5" fill="#777" text-anchor="start">)</text>
</g>
</svg>
</body></html>
